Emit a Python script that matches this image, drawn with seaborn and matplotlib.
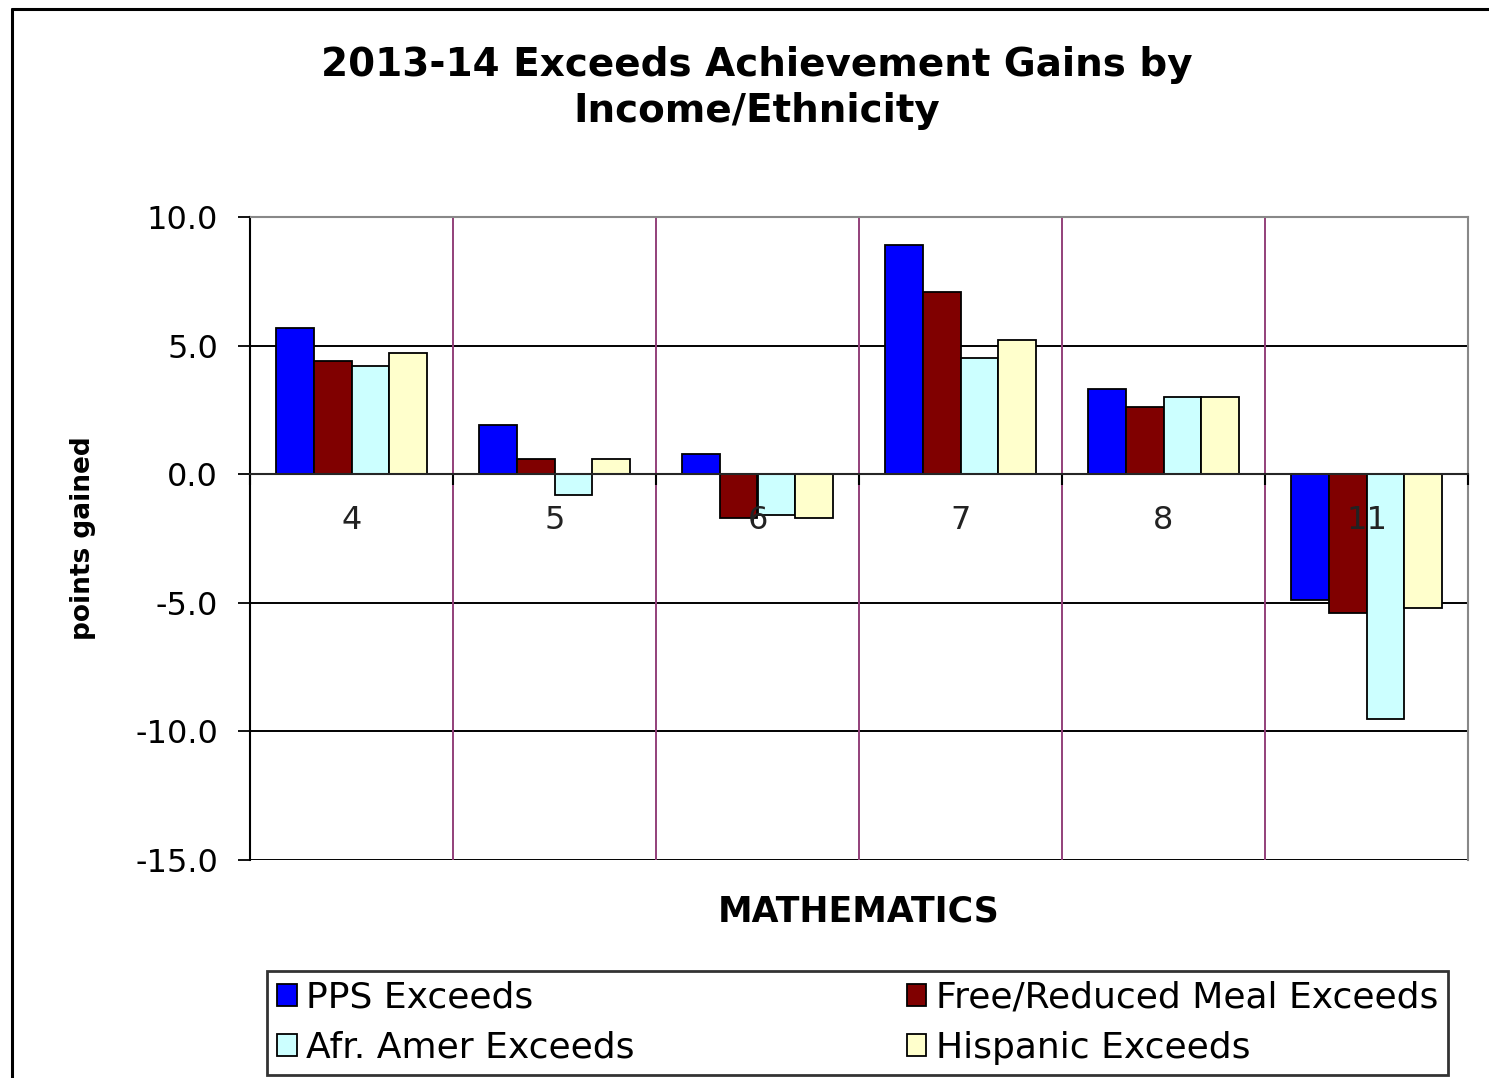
import numpy as np
import pandas as pd
import matplotlib
matplotlib.use('Agg')
import matplotlib.pyplot as plt
from matplotlib.lines import Line2D
from matplotlib.ticker import FormatStrFormatter
import seaborn as sns

# ---- data ----
grades = ['4', '5', '6', '7', '8', '11']
series_names = ['PPS Exceeds', 'Free/Reduced Meal Exceeds',
                'Afr. Amer Exceeds', 'Hispanic Exceeds']
pps_exceeds = [5.7, 1.9, 0.8, 8.9, 3.3, -4.9]
frm_exceeds = [4.4, 0.6, -1.7, 7.1, 2.6, -5.4]
afr_exceeds = [4.2, -0.8, -1.6, 4.5, 3.0, -9.5]
hisp_exceeds = [4.7, 0.6, -1.7, 5.2, 3.0, -5.2]
y_ticks = [-15, -10, -5, 0, 5, 10]

colors = ['#0000FF', '#800000', '#CCFFFF', '#FFFFCC']

rows = []
for name, vals in zip(series_names, [pps_exceeds, frm_exceeds, afr_exceeds, hisp_exceeds]):
    for g, v in zip(grades, vals):
        rows.append({'grade': g, 'gain': v, 'group': name})
df = pd.DataFrame(rows)

sns.set_style('white')
plt.rcParams['font.family'] = ['DejaVu Sans']
plt.rcParams['text.color'] = 'black'

fig = plt.figure(figsize=(14.89, 10.78), dpi=100)
ax = fig.add_axes([250 / 1489, 1 - 860 / 1078, (1468 - 250) / 1489, (860 - 217) / 1078])

sns.barplot(data=df, x='grade', y='gain', hue='group', order=grades,
            hue_order=series_names, palette=colors, saturation=1, edgecolor='black',
            linewidth=1.3, width=0.745, errorbar=None, ax=ax, zorder=2)

# ---- axes ----
ax.set_axisbelow(False)   # category labels drawn over the bars (e.g. "11")
ax.set_ylim(-15, 10)
ax.set_xlim(-0.5, len(grades) - 0.5)
ax.set_yticks(y_ticks)
ax.yaxis.set_major_formatter(FormatStrFormatter('%.1f'))
ax.tick_params(axis='y', labelsize=23, length=9, width=1.3, direction='out',
               left=True, pad=14, colors='black')

# category axis sits at zero, ticks between categories
ax.spines['bottom'].set_position(('data', 0))
ax.spines['bottom'].set_linewidth(1.5)
ax.spines['bottom'].set_zorder(3)
ax.set_xticks(np.arange(-0.5, len(grades), 1.0), minor=True)
ax.tick_params(axis='x', which='major', length=0, labelsize=23, pad=22, colors='#222222')
ax.tick_params(axis='x', which='minor', length=8, width=1.5, direction='out',
               bottom=True, color='black')

ax.spines['left'].set_linewidth(1.5)
ax.spines['left'].set_color('black')
ax.spines['top'].set_color('#888888')
ax.spines['top'].set_linewidth(1.5)
ax.spines['right'].set_color('#888888')
ax.spines['right'].set_linewidth(1.5)

# gridlines: black horizontal, purple vertical category dividers (below the bars)
for yv in [-15, -10, -5, 5]:
    ax.axhline(yv, color='black', linewidth=1.4, zorder=0.5)
for xv in np.arange(0.5, len(grades) - 1, 1.0):
    ax.axvline(xv, color='#93407a', linewidth=1.4, zorder=0.5)

ax.set_xlabel('')
ax.set_ylabel('')

# ---- texts ----
fig.text(757 / 1489, 1 - 88 / 1078, '2013-14 Exceeds Achievement Gains by\nIncome/Ethnicity',
         ha='center', va='center', fontsize=28, fontweight='bold', linespacing=1.3)
fig.text(859 / 1489, 1 - 912 / 1078, 'MATHEMATICS', ha='center', va='center',
         fontsize=25, fontweight='bold')
fig.text(83 / 1489, 1 - 538 / 1078, 'points gained', ha='center', va='center',
         rotation=90, fontsize=19, fontweight='bold')

# ---- legend (row-wise order: PPS, F/R meal / Afr. Amer, Hispanic) ----
handles, labels = ax.get_legend_handles_labels()
ax.get_legend().remove()
order = [0, 2, 1, 3]
leg = fig.legend([handles[i] for i in order], [labels[i] for i in order],
                 ncol=2, loc='lower left', mode='expand',
                 bbox_to_anchor=(267 / 1489, 3 / 1078, (1448 - 267) / 1489, (1075 - 969) / 1078),
                 fontsize=26, frameon=True, fancybox=False, edgecolor='black',
                 handlelength=0.55, handleheight=0.55, handletextpad=0.25,
                 labelspacing=0.45, borderpad=0.28, borderaxespad=0)
leg.get_frame().set_linewidth(2)

# ---- outer chart frame (left and top edges visible) ----
fig.add_artist(Line2D([12 / 1489, 12 / 1489], [0, 1 - 9 / 1078], transform=fig.transFigure,
                      color='black', linewidth=2.2))
fig.add_artist(Line2D([12 / 1489, 1], [1 - 9 / 1078, 1 - 9 / 1078], transform=fig.transFigure,
                      color='black', linewidth=2.2))

fig.savefig('out.png', dpi=100)
plt.close()
